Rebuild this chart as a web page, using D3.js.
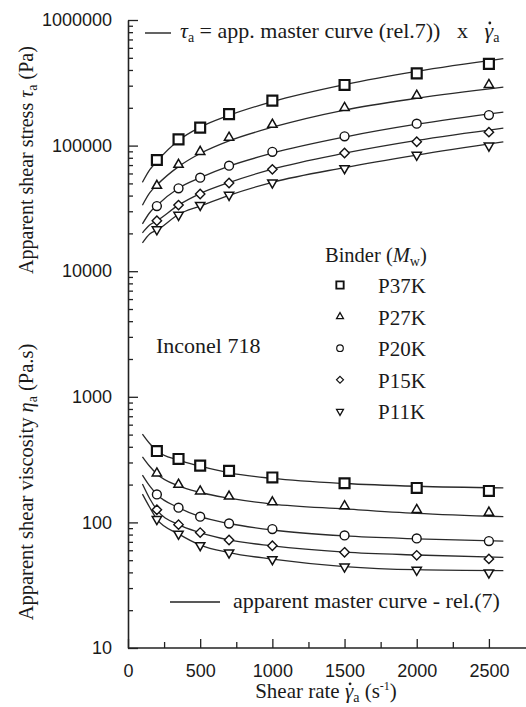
<!DOCTYPE html>
<html>
<head>
  <meta charset="utf-8">
  <script src="https://cdn.jsdelivr.net/npm/d3@7"></script>
  <style>
    body { margin: 0; background: #fff; }
    .serif { font-family: "Liberation Serif", "Times New Roman", serif; fill: #1a1a1a; white-space: pre; }
    .tick text { font-family: "Liberation Sans", Arial, sans-serif; font-size: 18px; fill: #1a1a1a; }
  </style>
</head>
<body>
  <svg width="526" height="707" id="mainsvg"></svg>
  <script>
    // ---- data ----
    const binders = ['P37K', 'P27K', 'P20K', 'P15K', 'P11K'];
    const shearRates = [200, 350, 500, 700, 1000, 1500, 2000, 2500];
    const curveRates = [100, 150, 200, 350, 500, 700, 1000, 1500, 2000, 2600];

    // measured apparent shear stress (Pa)
    const stressP37K = [76800, 112000, 139000, 178000, 228000, 304000, 376000, 447000];
    const stressP27K = [48000, 70500, 89400, 116000, 147000, 200000, 250000, 305000];
    const stressP20K = [33000, 45700, 55500, 69200, 89300, 118600, 149400, 175000];
    const stressP15K = [25200, 33600, 41200, 50400, 64700, 87300, 107400, 128000];
    const stressP11K = [21500, 28000, 33600, 40400, 50700, 65900, 84200, 99700];

    // measured apparent shear viscosity (Pa.s)
    const viscP37K = [370, 320, 283, 257, 228, 205, 188, 178];
    const viscP27K = [246, 200, 177, 161, 145, 135, 126, 120];
    const viscP20K = [167, 131, 111, 98, 88.5, 78.8, 74.6, 71];
    const viscP15K = [126, 96, 83, 72.4, 65.2, 57.8, 54.7, 51.2];
    const viscP11K = [106, 81, 65.7, 57.4, 50.8, 44.4, 41.8, 39.8];

    // master curves (stress)
    const stressCurveP37K = [51000, 64000, 75000, 110000, 140000, 174000, 224000, 306000, 390000, 492000];
    const stressCurveP27K = [33500, 42000, 48500, 68000, 86500, 109000, 140000, 192000, 238000, 292000];
    const stressCurveP20K = [23800, 29200, 33400, 45800, 55500, 68600, 87000, 117000, 148000, 185000];
    const stressCurveP15K = [20200, 23300, 25200, 33600, 41500, 50800, 65000, 87000, 110000, 138000];
    const stressCurveP11K = [16800, 19800, 21200, 28300, 33000, 40200, 51000, 66800, 84000, 107000];

    // master curves (viscosity)
    const viscCurveP37K = [505, 425, 372, 313, 280, 248, 224, 204, 194, 188];
    const viscCurveP27K = [333, 280, 243, 195, 173, 156, 140, 128, 118, 111];
    const viscCurveP20K = [238, 195, 167, 131, 111, 98, 87, 78, 74, 71];
    const viscCurveP15K = [202, 155, 126, 96, 83, 72.5, 65, 58, 55, 52.7];
    const viscCurveP11K = [168, 132, 106, 81, 66, 57.5, 51, 44.5, 42, 41.3];

    const yMajorTicks = [10, 100, 1000, 10000, 100000, 1000000];
    const xMajorTicks = [0, 500, 1000, 1500, 2000, 2500];
    const xMinorTicks = [250, 750, 1250, 1750, 2250];

    const stressSeries = [stressP37K, stressP27K, stressP20K, stressP15K, stressP11K];
    const viscSeries = [viscP37K, viscP27K, viscP20K, viscP15K, viscP11K];
    const stressCurves = [stressCurveP37K, stressCurveP27K, stressCurveP20K, stressCurveP15K, stressCurveP11K];
    const viscCurves = [viscCurveP37K, viscCurveP27K, viscCurveP20K, viscCurveP15K, viscCurveP11K];

    const svg = d3.select('#mainsvg');
    const margin = { top: 20, left: 128 };
    const plotW = 397;
    const plotH = 628;

    const g = svg.append('g')
      .attr('transform', `translate(${margin.left}, ${margin.top})`);

    const xScale = d3.scaleLinear().domain([0, 2750]).range([0, plotW]);
    const yScale = d3.scaleLog().domain([10, 1000000]).range([plotH, 0]);

    // minor ticks on the log axis (2..9 in each decade)
    const yMinorTicks = [];
    yMajorTicks.slice(0, -1).forEach(d => {
      for (let k = 2; k < 10; k++) yMinorTicks.push(d * k);
    });

    // axes, ticks pointing inward
    const yMinor = g.append('g').call(d3.axisLeft(yScale).tickValues(yMinorTicks)
      .tickSize(-5).tickSizeOuter(0).tickFormat(''));
    const yMajor = g.append('g').call(d3.axisLeft(yScale).tickValues(yMajorTicks)
      .tickSize(-10).tickSizeOuter(0).tickPadding(16).tickFormat(d3.format('d')));
    const xMinor = g.append('g').attr('transform', `translate(0, ${plotH})`)
      .call(d3.axisBottom(xScale).tickValues(xMinorTicks).tickSize(-6).tickSizeOuter(0).tickFormat(''));
    const xMajor = g.append('g').attr('transform', `translate(0, ${plotH})`)
      .call(d3.axisBottom(xScale).tickValues(xMajorTicks).tickSize(-9).tickSizeOuter(0)
        .tickPadding(16).tickFormat(d3.format('d')));

    [yMinor, xMinor].forEach(a => a.select('.domain').remove());
    [yMinor, yMajor, xMinor, xMajor].forEach(a => {
      a.selectAll('line').attr('stroke', '#222').attr('stroke-width', 1.3);
      a.select('.domain').attr('stroke', '#222').attr('stroke-width', 1.6);
    });
    xMajor.select('.domain').attr('d', `M0,0H${plotW + 1}`);

    // master curves
    const line = d3.line()
      .x((d, i) => xScale(curveRates[i]))
      .y(d => yScale(d))
      .curve(d3.curveMonotoneX);

    g.selectAll('.curve')
      .data(stressCurves.concat(viscCurves))
      .enter()
      .append('path')
      .attr('class', 'curve')
      .attr('d', line)
      .attr('fill', 'none')
      .attr('stroke', '#2a2a2a')
      .attr('stroke-width', 1.3);

    // markers
    const symbolTypes = [
      d3.symbolSquare2 || d3.symbolSquare,
      d3.symbolTriangle2 || d3.symbolTriangle,
      d3.symbolCircle,
      d3.symbolDiamond2 || d3.symbolDiamond,
      d3.symbolTriangle2 || d3.symbolTriangle
    ];
    const symbolSizes = [125, 62, 62, 56, 62];
    const symbolRotate = [0, 0, 0, 0, 180];
    const symbolStroke = [2.2, 1.5, 1.4, 1.4, 1.5];

    const drawMarkers = function (series) {
      series.forEach((vals, s) => {
        g.append('g').selectAll('path')
          .data(vals)
          .enter()
          .append('path')
          .attr('d', d3.symbol().type(symbolTypes[s]).size(symbolSizes[s]))
          .attr('transform', (d, i) => `translate(${xScale(shearRates[i])}, ${yScale(d)}) rotate(${symbolRotate[s]})`)
          .attr('fill', 'white')
          .attr('stroke', '#111')
          .attr('stroke-width', symbolStroke[s]);
      });
    };
    drawMarkers(stressSeries);
    drawMarkers(viscSeries);

    // legend of binders
    const legend = svg.append('g');
    legend.append('text').attr('class', 'serif')
      .attr('x', 325).attr('y', 262).attr('font-size', 20.5)
      .html('Binder (<tspan font-style="italic">M</tspan><tspan font-size="14" dy="4">w</tspan><tspan dy="-4">)</tspan>');
    binders.forEach((b, i) => {
      const yy = 285 + i * 31.6;
      legend.append('path')
        .attr('d', d3.symbol().type(symbolTypes[i]).size(symbolSizes[i] * 0.55))
        .attr('transform', `translate(340, ${yy}) rotate(${symbolRotate[i]})`)
        .attr('fill', 'white').attr('stroke', '#111')
        .attr('stroke-width', symbolStroke[i] * 0.85);
      legend.append('text').attr('class', 'serif')
        .attr('x', 378).attr('y', yy + 8).attr('font-size', 21)
        .text(b);
    });

    svg.append('text').attr('class', 'serif')
      .attr('x', 156).attr('y', 353).attr('font-size', 22)
      .text('Inconel 718');

    // the dot over gamma is drawn as a small circle above the glyph
    const dotOverChar = function (textSel, charIndex) {
      const box = textSel.node().getExtentOfChar(charIndex);
      svg.append('circle')
        .attr('cx', box.x + box.width * 0.62)
        .attr('cy', box.y + box.height * 0.2)
        .attr('r', 1.4)
        .attr('fill', '#1a1a1a');
    };

    // top legend
    svg.append('line').attr('x1', 145).attr('x2', 171).attr('y1', 33).attr('y2', 33)
      .attr('stroke', '#222').attr('stroke-width', 1.4);
    const topText = svg.append('text').attr('class', 'serif')
      .attr('x', 180).attr('y', 38).attr('font-size', 22)
      .html('<tspan font-style="italic">τ</tspan><tspan font-size="14" dy="4">a</tspan>' +
        '<tspan dy="-4"> = app. master curve (rel.7))   x   </tspan>' +
        '<tspan font-style="italic">γ</tspan><tspan font-size="14" dy="4">a</tspan>');
    dotOverChar(topText, topText.text().indexOf('γ'));

    // bottom legend
    svg.append('line').attr('x1', 170).attr('x2', 220).attr('y1', 602).attr('y2', 602)
      .attr('stroke', '#222').attr('stroke-width', 1.4);
    svg.append('text').attr('class', 'serif')
      .attr('x', 233).attr('y', 608).attr('font-size', 22)
      .text('apparent master curve - rel.(7)');

    // axis titles
    const xTitle = svg.append('text').attr('class', 'serif')
      .attr('x', 326).attr('y', 698).attr('font-size', 21)
      .attr('text-anchor', 'middle')
      .html('Shear rate <tspan font-style="italic">γ</tspan><tspan font-size="14" dy="4">a</tspan>' +
        '<tspan dy="-4"> (s</tspan><tspan font-size="12" dy="-8">-1</tspan><tspan dy="8">)</tspan>');
    dotOverChar(xTitle, xTitle.text().indexOf('γ'));

    svg.append('text').attr('class', 'serif')
      .attr('transform', 'translate(33, 160) rotate(-90)')
      .attr('font-size', 20).attr('text-anchor', 'middle')
      .html('Apparent shear stress <tspan font-style="italic">τ</tspan><tspan font-size="14" dy="4">a</tspan><tspan dy="-4"> (Pa)</tspan>');

    svg.append('text').attr('class', 'serif')
      .attr('transform', 'translate(33, 482) rotate(-90)')
      .attr('font-size', 20.5).attr('text-anchor', 'middle')
      .html('Apparent shear viscosity <tspan font-style="italic">η</tspan><tspan font-size="14" dy="4">a</tspan><tspan dy="-4"> (Pa.s)</tspan>');
  </script>
</body>
</html>
